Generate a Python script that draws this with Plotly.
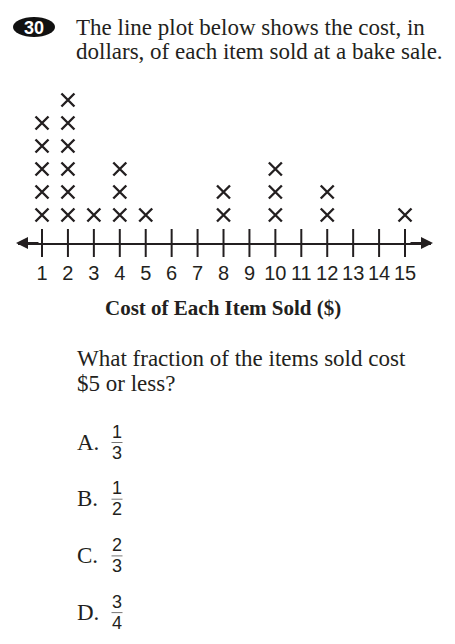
import plotly.graph_objects as go

# page body has an 8px margin; the figure is sized so the page is 455x644
OFF = 8
W, H = 455 - OFF, 644 - OFF

# ---- data ----
costs = [1, 2, 3, 4, 5, 8, 10, 12, 15]
counts = [5, 6, 1, 3, 1, 2, 3, 2, 1]
tick_values = list(range(1, 16))
tick_labels = [str(v) for v in tick_values]
question_number = "30"
intro_lines = ["The line plot below shows the cost, in",
               "dollars, of each item sold at a bake sale."]
axis_title = "Cost of Each Item Sold ($)"
question_lines = ["What fraction of the items sold cost", "$5 or less?"]
option_letters = ["A.", "B.", "C.", "D."]
numerators = [1, 1, 2, 3]
denominators = [3, 2, 3, 4]

INK = "#231f20"
SERIF = "Liberation Serif"
SANS = "Liberation Sans"
NARROW = "Liberation Sans Narrow, Liberation Sans"

def px(x):
    return (x - OFF) / W

def py(y):
    return 1 - (y - OFF) / H

# expand dots
xs, ys = [], []
for c, n in zip(costs, counts):
    for k in range(1, n + 1):
        xs.append(c)
        ys.append(k)

# axis geometry (page pixels)
x_left, x_right = 18, 431
unit = 25.93
xa = 1 - (42 - x_left) / unit
xb = xa + (x_right - x_left) / unit
axis_y = 243
top_y = 85
row_px = 23
ylo = 1 - (axis_y - 215) / row_px
yhi = ylo + (axis_y - top_y) / row_px

fig = go.Figure()
fig.add_trace(go.Scatter(
    x=tick_values, y=[ylo] * len(tick_values), mode="markers",
    marker=dict(symbol="line-ns", size=20, line=dict(width=2, color=INK)),
    cliponaxis=False, hoverinfo="skip", showlegend=False))
fig.add_trace(go.Scatter(
    x=xs, y=ys, mode="markers",
    marker=dict(symbol="x-thin", size=13, line=dict(width=2.4, color=INK)),
    cliponaxis=False, showlegend=False))

fig.update_xaxes(domain=[px(x_left), px(x_right)], range=[xa, xb],
                 showline=True, linewidth=2, linecolor=INK, ticks="",
                 tickvals=tick_values, ticktext=tick_labels,
                 tickfont=dict(family=NARROW, size=20, color=INK),
                 ticklabelstandoff=11, showgrid=False, zeroline=False)
fig.update_yaxes(domain=[py(axis_y), py(top_y)], range=[ylo, yhi],
                 visible=False, showgrid=False, zeroline=False)

ann = []
shapes = []
# badge
shapes.append(dict(type="circle", xref="paper", yref="paper",
                   x0=px(13), x1=px(55), y0=py(37), y1=py(17),
                   fillcolor="#111", line=dict(width=0)))
ann.append(dict(x=px(34), y=py(27.5), xref="paper", yref="paper", text=f"<b>{question_number}</b>",
                showarrow=False, font=dict(family=SANS, size=18, color="white"),
                xanchor="center", yanchor="middle"))
for i, t in enumerate(intro_lines):
    ann.append(dict(x=px(74), y=py(27 + 25 * i), xref="paper", yref="paper", text=t,
                    showarrow=False, font=dict(family=SERIF, size=23, color=INK),
                    xanchor="left", yanchor="middle"))
# arrows
for tip, tail in [(16, 40), (433, 409)]:
    ann.append(dict(x=px(tip), y=py(axis_y), xref="paper", yref="paper", text="",
                    showarrow=True, ax=tail - tip, ay=0, arrowhead=2, arrowsize=1.2,
                    arrowwidth=2, arrowcolor=INK))
ann.append(dict(x=px(223), y=py(308), xref="paper", yref="paper", text=f"<b>{axis_title}</b>",
                showarrow=False, font=dict(family=SERIF, size=21, color=INK),
                xanchor="center", yanchor="middle"))
for i, t in enumerate(question_lines):
    ann.append(dict(x=px(75), y=py(358 + 25 * i), xref="paper", yref="paper", text=t,
                    showarrow=False, font=dict(family=SERIF, size=23, color=INK),
                    xanchor="left", yanchor="middle"))
for i, (L, n, d) in enumerate(zip(option_letters, numerators, denominators)):
    cy = 442 + 56.7 * i
    ann.append(dict(x=px(75), y=py(cy), xref="paper", yref="paper", text=L,
                    showarrow=False, font=dict(family=SERIF, size=23, color=INK),
                    xanchor="left", yanchor="middle"))
    ann.append(dict(x=px(117), y=py(cy - 10.5), xref="paper", yref="paper", text=str(n),
                    showarrow=False, font=dict(family=NARROW, size=18, color=INK),
                    xanchor="center", yanchor="middle"))
    ann.append(dict(x=px(117), y=py(cy + 10.5), xref="paper", yref="paper", text=str(d),
                    showarrow=False, font=dict(family=NARROW, size=18, color=INK),
                    xanchor="center", yanchor="middle"))
    shapes.append(dict(type="line", xref="paper", yref="paper",
                       x0=px(111.5), x1=px(122.5), y0=py(cy + 0.5), y1=py(cy + 0.5),
                       line=dict(width=1, color="#777")))

fig.update_layout(width=W, height=H, margin=dict(l=0, r=0, t=0, b=0),
                  paper_bgcolor="white", plot_bgcolor="white",
                  annotations=ann, shapes=shapes, showlegend=False)
fig.write_html("out.html")
